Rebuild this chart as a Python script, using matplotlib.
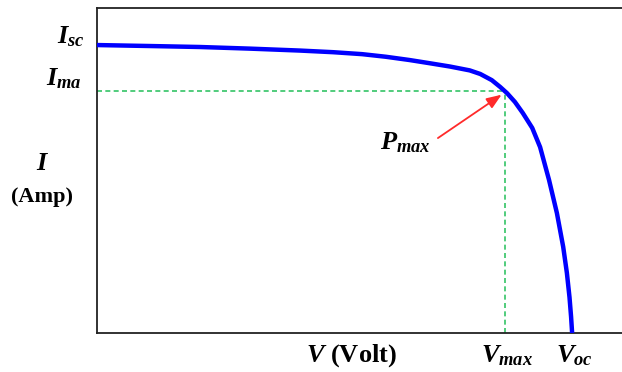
import numpy as np
import matplotlib
matplotlib.use("Agg")
import matplotlib.pyplot as plt

# I-V curve, normalised units
volt = [0, 10.1, 19.6, 29.1, 38.7, 45.0, 50.5, 55.0, 59.5, 63.4, 67.2, 71.0,
        73.0, 75.2, 76.8, 78.1, 79.6, 81.1, 82.9, 84.4, 86.1, 87.6, 88.8,
        89.5, 90.0, 90.3, 90.5]
amp = [88.6, 88.3, 88.0, 87.5, 86.9, 86.4, 85.8, 85.0, 84.0, 83.0, 82.0, 80.8,
       79.7, 77.8, 75.7, 73.8, 71.1, 67.7, 63.1, 57.2, 47.1, 36.9, 26.5,
       18.5, 11.0, 5.0, 0]
v_max, i_max = 77.8, 74.6
i_sc, v_oc = 88.6, 90.5

plt.rcParams["mathtext.fontset"] = "custom"
plt.rcParams["mathtext.it"] = "Liberation Serif:italic:bold"
plt.rcParams["mathtext.rm"] = "Liberation Serif:bold"
plt.rcParams["mathtext.bf"] = "Liberation Serif:bold"

fig = plt.figure(figsize=(6.22, 3.72), dpi=100)
ax = fig.add_axes([97 / 622, 39 / 372, 1 - 97 / 622, 325 / 372])
ax.set_xlim(0, 100)
ax.set_ylim(0, 100)
ax.set_xticks([])
ax.set_yticks([])
ax.spines["right"].set_visible(False)
for s in ("left", "top", "bottom"):
    ax.spines[s].set_linewidth(1.3)
    ax.spines[s].set_color("#222222")

ax.plot(volt, amp, color="#0000ff", lw=3.2, solid_capstyle="butt",
        solid_joinstyle="round", zorder=3)
green = "#33c466"
ax.plot([0, v_max], [i_max, i_max], color=green, lw=1.2, ls=(0, (3, 2)))
ax.plot([v_max, v_max], [0, i_max], color=green, lw=1.2, ls=(0, (3, 2)))

ax.annotate("", xy=(v_max - 0.3, i_max - 0.8), xytext=(64.5, 59.5),
            arrowprops=dict(arrowstyle="-|>,head_length=0.9,head_width=0.35",
                            color="#ff2a2a", lw=1.3))

txt = dict(fontsize=19, family="Liberation Serif", fontweight="bold")
ax.text(63.5, 58.5, r"$P_{max}$", ha="right", va="center", **txt)

yax = ("axes fraction", "data")
ax.annotate(r"$I_{sc}$", xy=(-0.023, i_sc + 2.5), xycoords=yax, ha="right", va="center", **txt)
ax.annotate(r"$I_{ma}$", xy=(-0.029, i_max + 3.5), xycoords=yax, ha="right", va="center", **txt)
fig.text(43 / 622, 1 - 163 / 372, r"$I$", ha="center", va="center", **txt)
fig.text(42 / 622, 1 - 197 / 372, "(Amp)", ha="center", va="center",
         fontsize=16, family="Liberation Serif", fontweight="bold")

xax = ("data", "axes fraction")
ax.annotate(r"$V_{max}$", xy=(v_max + 0.3, -0.07), xycoords=xax, ha="center", va="center", **txt)
ax.annotate(r"$V_{oc}$", xy=(v_oc + 0.5, -0.07), xycoords=xax, ha="center", va="center", **txt)
ax.annotate(r"$V$ (Volt)", xy=(48.5, -0.07), xycoords=xax, ha="center", va="center", **txt)

fig.savefig("out.png", dpi=100)
